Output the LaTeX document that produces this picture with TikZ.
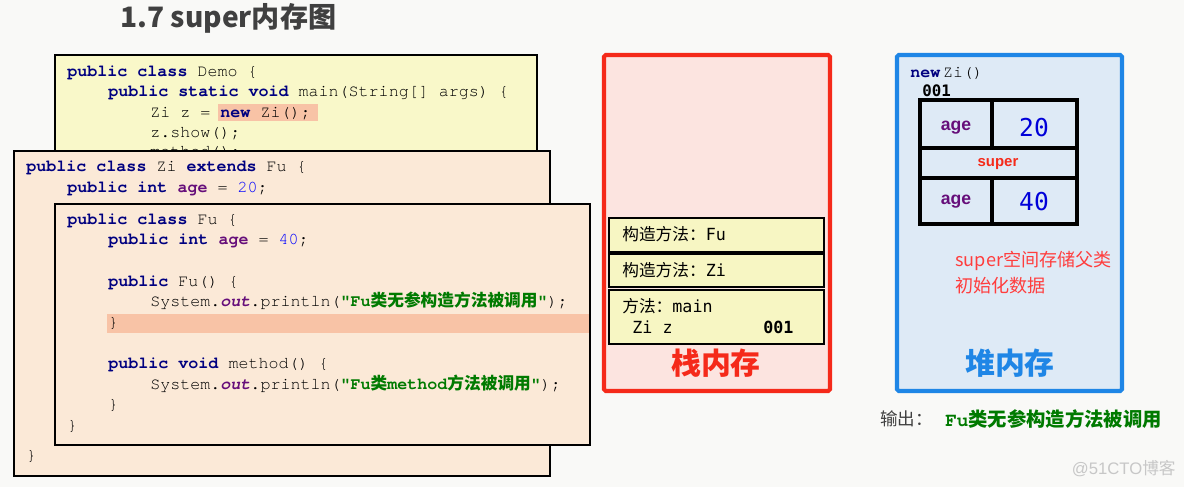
\documentclass[tikz,border=0pt]{standalone}
\usepackage{fontspec}
\usepackage{tikz}
\setmainfont{Liberation Sans}
\setmonofont{texgyrecursor}[Extension=.otf, UprightFont=*-regular, BoldFont=*-bold, ItalicFont=*-italic, BoldItalicFont=*-bolditalic]
\newfontfamily\cjk{Noto Sans CJK SC}
\newfontfamily\dvmono{DejaVu Sans Mono}

\definecolor{bgcol}{HTML}{F9F9F7}
\definecolor{demofill}{HTML}{F9F8C9}
\definecolor{classfill}{HTML}{FBE9D7}
\definecolor{hlfill}{HTML}{F8C3A6}
\definecolor{kwblue}{HTML}{000080}
\definecolor{fldpurple}{HTML}{660E7A}
\definecolor{numblue}{HTML}{0000FF}
\definecolor{strgreen}{HTML}{007A00}
\definecolor{stackfill}{HTML}{FCE4E0}
\definecolor{stackred}{HTML}{F52A1A}
\definecolor{framefill}{HTML}{F7F6C3}
\definecolor{heapfill}{HTML}{DEEAF6}
\definecolor{heapblue}{HTML}{1F86E6}
\definecolor{notered}{HTML}{FF3D3D}
\definecolor{titlegrey}{HTML}{404040}

\newcommand{\codefont}{\fontsize{9.5}{11}\selectfont\ttfamily}
\newcommand{\kw}[1]{{\bfseries\color{kwblue}#1}}
\newcommand{\fld}[1]{{\bfseries\color{fldpurple}#1}}
\newcommand{\numlit}[1]{{\color{numblue}#1}}
\newcommand{\jstr}[1]{{\bfseries\color{strgreen}#1}}
\newcommand{\zh}[1]{{\cjk #1}}

\begin{document}
\begin{tikzpicture}[x=0.02cm, y=-0.02cm,
  code/.style={anchor=base west, inner sep=0pt, font=\codefont},
  classbox/.style={draw=black, line width=0.9pt},
  stackframe/.style={draw=black, line width=1.1pt, fill=framefill},
  memlabel/.style={font=\cjk\bfseries\fontsize{17}{20}\selectfont},
  slotline/.style={line width=2.3pt, line cap=rect}]

  \useasboundingbox (0,0) rectangle (1184,487);
  \fill[bgcol] (0,0) rectangle (1184,487);

  % title
  \node[anchor=west, inner sep=0pt, text=titlegrey, font=\cjk\bfseries\fontsize{16}{18}\selectfont] (title) at (120,18) {1.7 super内存图};

  % class Demo
  \fill[demofill] (55,55) rectangle (537,160);
  \draw[classbox] (55,160) -- (55,55) -- (537,55) -- (537,160);
  \fill[hlfill] (218,104) rectangle (318,121);
  \node[code] (demo1) at (67,76) {\kw{public class} Demo \{};
  \node[code] (demo2) at (108,96) {\kw{public static void} main(String[] args) \{};
  \node[code] (demo3) at (150,117) {Zi z = \kw{new} Zi();};
  \node[code] (demo4) at (150,137) {z.show();};
  \node[code] (demo5) at (150,156) {method();};

  % class Zi
  \draw[classbox, fill=classfill] (14,151) rectangle (550,476);
  \node[code] (zi1) at (26,171) {\kw{public class} Zi \kw{extends} Fu \{};
  \node[code] (zi2) at (67,192) {\kw{public int} \fld{age} = \numlit{20};};
  \node[code] (zi3) at (26,460) {\}};

  % class Fu
  \draw[classbox, line width=1.2pt, fill=classfill] (55,204) rectangle (590,445);
  \fill[hlfill] (107,314) rectangle (589,333);
  \node[code] (fu1) at (67,224) {\kw{public class} Fu \{};
  \node[code] (fu2) at (108,244) {\kw{public int} \fld{age} = \numlit{40};};
  \node[code] (fu3) at (108,286) {\kw{public} Fu() \{};
  \node[code] (fu4) at (150,306) {System.\fld{\itshape out}.println(\jstr{"Fu\zh{类无参构造方法被调用}"});};
  \node[code] (fu5) at (108,327) {\}};
  \node[code] (fu6) at (108,368) {\kw{public void} method() \{};
  \node[code] (fu7) at (150,389) {System.\fld{\itshape out}.println(\jstr{"Fu\zh{类}method\zh{方法被调用}"});};
  \node[code] (fu8) at (108,409) {\}};
  \node[code] (fu9) at (67,430) {\}};

  % stack
  \draw[draw=stackred, fill=stackfill, line width=2.3pt, rounded corners=1pt] (604,55) rectangle (830,391);
  \draw[stackframe] (609,218) rectangle (824,252);
  \draw[stackframe] (609,254) rectangle (824,287);
  \draw[stackframe] (609,290) rectangle (824,344);
  \node[anchor=base west, inner sep=0pt, font=\fontsize{9.5}{11}\selectfont] (frmfu) at (622,240) {\zh{构造方法：}\dvmono Fu};
  \node[anchor=base west, inner sep=0pt, font=\fontsize{9.5}{11}\selectfont] (frmzi) at (622,276) {\zh{构造方法：}\dvmono Zi};
  \node[anchor=base west, inner sep=0pt, font=\fontsize{9.5}{11}\selectfont] (frmmain) at (622,312) {\zh{方法：}\dvmono main};
  \node[anchor=base west, inner sep=0pt, font=\dvmono\fontsize{9.5}{11}\selectfont] (varz) at (632,333) {Zi z};
  \node[anchor=base west, inner sep=0pt, font=\dvmono\bfseries\fontsize{9.5}{11}\selectfont] (varaddr) at (763,333) {001};
  \node[memlabel, text=stackred] (stacklbl) at (716,363) {栈内存};

  % heap
  \draw[draw=heapblue, fill=heapfill, line width=2.3pt, rounded corners=1pt] (897,55) rectangle (1122,391);
  \node[code] (newzi) at (910,77) {\kw{new}\,Zi()};
  \node[anchor=base west, inner sep=0pt, font=\dvmono\bfseries\fontsize{9}{11}\selectfont] (objaddr) at (922,96) {001};
  \draw[slotline] (920,100) rectangle (1077,224);
  \draw[slotline] (920,148) -- (1077,148);
  \draw[slotline] (920,178) -- (1077,178);
  \draw[slotline] (992,100) -- (992,148);
  \draw[slotline] (992,178) -- (992,224);
  \node[text=fldpurple, font=\bfseries\fontsize{10}{12}\selectfont] (agezi) at (956,128) {age};
  \node[text=numblue!85!black, font=\dvmono\fontsize{14}{16}\selectfont] (valzi) at (1034,128) {20};
  \node[text=stackred, font=\bfseries\fontsize{8.5}{10}\selectfont] (superlbl) at (998,164) {super};
  \node[text=fldpurple, font=\bfseries\fontsize{10}{12}\selectfont] (agefu) at (956,202) {age};
  \node[text=numblue!85!black, font=\dvmono\fontsize{14}{16}\selectfont] (valfu) at (1034,202) {40};
  \node[anchor=west, inner sep=0pt, text=notered, font=\cjk\fontsize{10.3}{12}\selectfont] (note1) at (955,261) {super空间存储父类};
  \node[anchor=west, inner sep=0pt, text=notered, font=\cjk\fontsize{10.3}{12}\selectfont] (note2) at (955,286) {初始化数据};
  \node[memlabel, text=heapblue] (heaplbl) at (1010,363) {堆内存};

  % output
  \node[anchor=west, inner sep=0pt, text=titlegrey, font=\cjk\fontsize{10}{12}\selectfont] (outlbl) at (880,419) {输出：};
  \node[anchor=west, inner sep=0pt, font=\ttfamily\bfseries\fontsize{11}{13}\selectfont, text=strgreen] (outtxt) at (945,419) {Fu\zh{类无参构造方法被调用}};

  % watermark
  \node[anchor=east, inner sep=0pt, text=black!22, font=\fontsize{9.5}{11}\selectfont] (wmark) at (1176,469) {@51CTO\zh{博客}};
\end{tikzpicture}
\end{document}
